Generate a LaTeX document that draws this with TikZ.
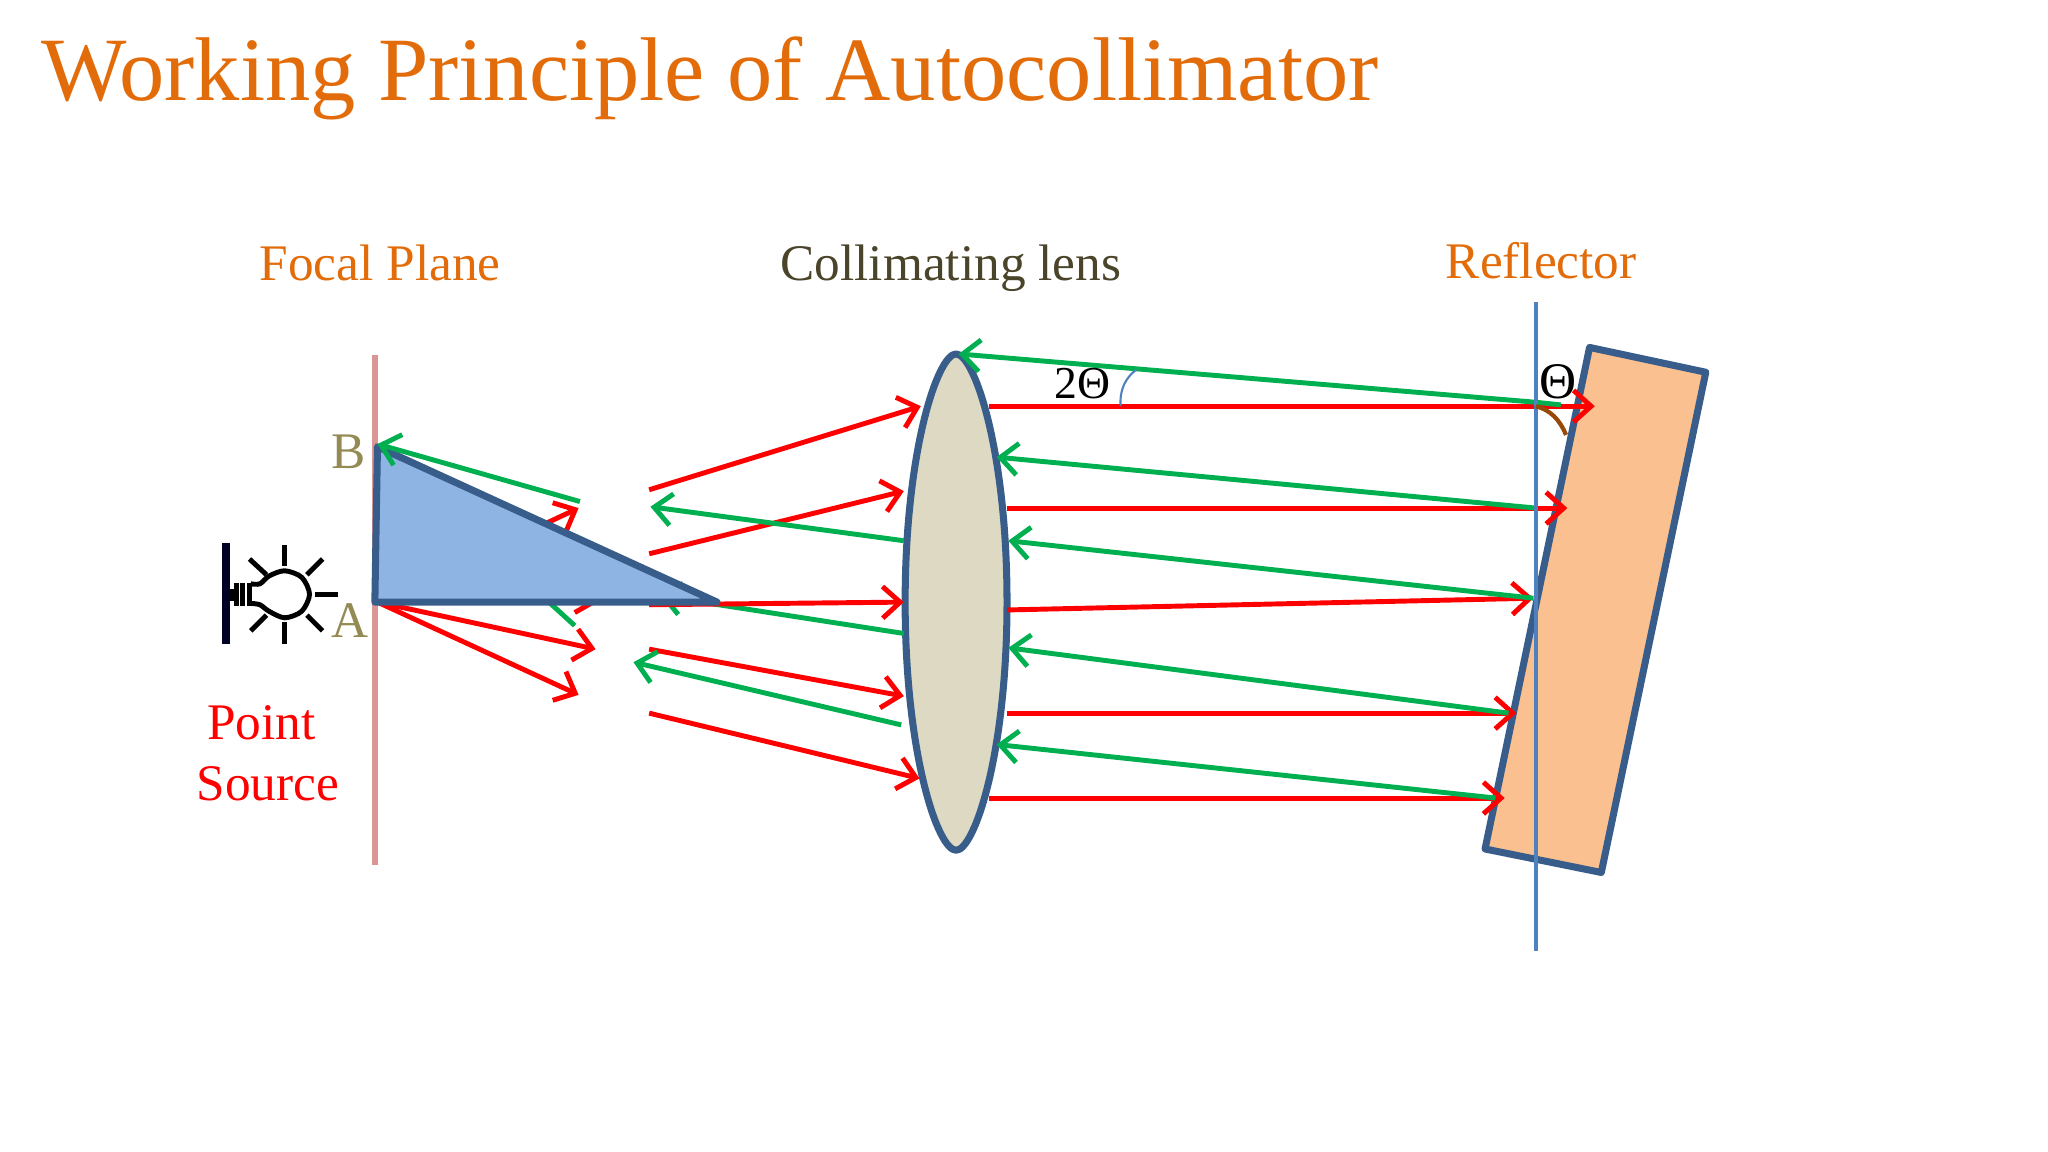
\documentclass[tikz,border=0pt]{standalone}
\usepackage{fontspec}
\setmainfont{Liberation Serif}
\usetikzlibrary{arrows.meta}
\definecolor{titleorange}{HTML}{E36C0A}
\definecolor{lensname}{HTML}{4A452A}
\definecolor{letterolive}{HTML}{948A54}
\definecolor{planepink}{HTML}{D99694}
\definecolor{shapeblue}{HTML}{385D8A}
\definecolor{prismblue}{HTML}{8EB4E3}
\definecolor{lensgrey}{HTML}{DDD9C3}
\definecolor{mirrorpeach}{HTML}{FAC090}
\definecolor{normalblue}{HTML}{4F81BD}
\definecolor{raygreen}{HTML}{00B050}
\definecolor{arcbrown}{HTML}{984807}
\tikzset{
  redray/.style={red,line width=1.4pt,-{Straight Barb[length=5pt,width=9pt]}},
  greenray/.style={raygreen,line width=1.4pt,-{Straight Barb[length=5pt,width=9pt]}},
  redstub/.style={red,line width=1.4pt},
  greenstub/.style={raygreen,line width=1.4pt},
  solid shape/.style={draw=shapeblue,line width=2pt,line join=round},
  caption/.style={anchor=base,font=\fontsize{14.6}{17}\selectfont},
  lampline/.style={black,line width=1.4pt}
}
\begin{document}
\begin{tikzpicture}[x=0.013061cm,y=-0.013061cm]
  \useasboundingbox (0,0) rectangle (1568,882);
  % headings
  \node[anchor=base west,inner sep=0pt,text=titleorange,font=\fontsize{25.75}{30}\selectfont] (title) at (31,77) {Working Principle of Autocollimator};
  \node[caption,text=titleorange] (focalname) at (291,215) {Focal Plane};
  \node[caption,text=lensname] (lensname) at (728,215) {Collimating lens};
  \node[caption,text=titleorange] (reflectorname) at (1180,213) {Reflector};
  % focal plane, lens, reflector
  \draw[planepink,line width=1.7pt] (287,272) -- (287,662);
  \draw[solid shape,fill=lensgrey] (732,271) .. controls (746,271) and (771,345) .. (771,461) .. controls (771,577) and (746,651) .. (732,651) .. controls (718,651) and (693,577) .. (693,461) .. controls (693,345) and (718,271) .. (732,271) -- cycle;
  \draw[solid shape,fill=mirrorpeach] (1217,266) -- (1306,285) -- (1226,668) -- (1137,650) -- cycle;
  % rays behind the prism
  \draw[redray] (289,461) -- (443,389);
  \draw[redstub] (440,469) -- (470,452);
  \draw[greenstub] (440,479) -- (405,447);
  \draw[greenray] (692,485) -- (505,456);
  % rays left of the lens
  \draw[redray] (497,375) -- (705,311);
  \draw[redray] (497,424) -- (692,376);
  \draw[redray] (497,463) -- (692,461);
  \draw[redray] (497,497) -- (692,533);
  \draw[redray] (497,546) -- (704,596);
  \draw[redray] (289,461) -- (456,497);
  \draw[redray] (289,461) -- (443,532);
  \draw[greenray] (692,414) -- (498,388);
  \draw[greenray] (690,555) -- (485,507);
  % prism
  \draw[solid shape,fill=prismblue] (289,342) -- (287,461) -- (549,461) -- cycle;
  \draw[greenray] (444,384) -- (289,340);
  % rays right of the lens
  \draw[redray] (757,311) -- (1221,311);
  \draw[redray] (771,389) -- (1200,389);
  \draw[redray] (771,467) -- (1174,458);
  \draw[redray] (771,546) -- (1161,546);
  \draw[redray] (757,611) -- (1152,611);
  \draw[greenray] (1195,310) -- (1176,308) -- (734,271);
  \draw[greenray] (1176,389) -- (763,350);
  \draw[greenray] (1174,458) -- (772,414);
  \draw[greenray] (1155,546) -- (772,496);
  \draw[greenray] (1145,611) -- (763,570);
  % normal to the reflector
  \draw[normalblue,line width=1.1pt] (1176,231) -- (1176,728);
  % angles
  \draw[normalblue,line width=0.6pt] (858,311) .. controls (857,298) and (862,289) .. (870,283);
  \draw[arcbrown,line width=1.2pt] (1176,311) .. controls (1187,314) and (1194,321) .. (1199,333);
  \node[anchor=base,font=\fontsize{13}{15}\selectfont] (doubleangle) at (829,305) {2Θ};
  \node[anchor=base,font=\fontsize{14.6}{17}\selectfont] (angle) at (1193,305) {Θ};
  % letters on the focal plane
  \node[caption,text=letterolive] (pointB) at (267,359) {B};
  \node[caption,text=letterolive] (pointA) at (268,488) {A};
  \node[caption,text=red] (pointword) at (200,566) {Point};
  \node[caption,text=red] (sourceword) at (205,613) {Source};
  % lamp
  \fill[black!85!blue] (170,416) rectangle (176,493);
  \fill[black] (176,451) rectangle (181,460);
  \foreach \xstripe in {181,186,191}
    \draw[lampline] (\xstripe,446) -- (\xstripe,464);
  \draw[lampline] plot[smooth] coordinates {(192,447) (199,447) (206,441) (218,437) (231,442) (237,455) (231,468) (218,473) (206,468) (199,463) (192,462)};
  \foreach \xa/\ya/\xb/\yb in {218/417/218/433,218/476/218/493,241/455/259/455,191/428/204/440,247/428/235/440,192/483/204/471,247/483/235/471}
    \draw[lampline] (\xa,\ya) -- (\xb,\yb);
\end{tikzpicture}
\end{document}
